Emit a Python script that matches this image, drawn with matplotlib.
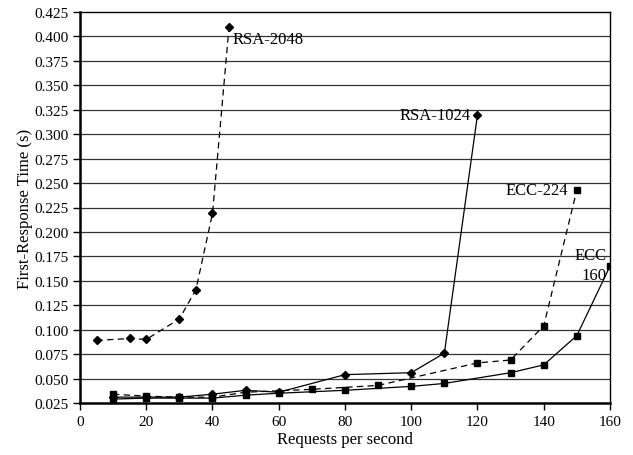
import matplotlib
matplotlib.use("Agg")
import matplotlib.pyplot as plt

rsa2048_x = [5, 15, 20, 30, 35, 40, 45]
rsa2048_y = [0.089, 0.091, 0.090, 0.111, 0.141, 0.219, 0.410]

rsa1024_x = [10, 20, 30, 40, 50, 60, 80, 100, 110, 120]
rsa1024_y = [0.031, 0.031, 0.031, 0.034, 0.038, 0.036, 0.054, 0.056, 0.076, 0.320]

ecc224_x = [10, 20, 30, 40, 50, 70, 90, 120, 130, 140, 150]
ecc224_y = [0.034, 0.032, 0.031, 0.031, 0.036, 0.039, 0.043, 0.066, 0.069, 0.104, 0.243]

ecc160_x = [10, 20, 30, 40, 50, 60, 80, 100, 110, 130, 140, 150, 160]
ecc160_y = [0.029, 0.030, 0.030, 0.030, 0.033, 0.035, 0.038, 0.042, 0.045, 0.056, 0.064, 0.094, 0.165]

xticks = list(range(0, 161, 20))
yticks = [0.025 * i for i in range(1, 18)]

plt.rcParams['font.family'] = ['Liberation Serif', 'DejaVu Serif']

fig = plt.figure(figsize=(6.33, 4.56), dpi=100)
ax = fig.add_axes([80/633, 52/456, 530/633, 391/456])

for y in yticks[1:-1]:
    ax.axhline(y, color='#333333', lw=0.9, zorder=0)

ax.plot(rsa2048_x, rsa2048_y, color='black', lw=0.9, ls=(0, (5, 3.5)),
        marker='D', ms=4.5, zorder=3)
ax.plot(rsa1024_x, rsa1024_y, color='black', lw=0.9, ls='-',
        marker='D', ms=4.5, zorder=3)
ax.plot(ecc224_x, ecc224_y, color='black', lw=0.9, ls=(0, (5, 3.5)),
        marker='s', ms=4.5, zorder=3)
ax.plot(ecc160_x, ecc160_y, color='black', lw=0.9, ls='-',
        marker='s', ms=4.5, zorder=3)

ax.text(46, 0.397, 'RSA-2048', fontsize=12, ha='left', va='center')
ax.text(118, 0.320, 'RSA-1024', fontsize=12, ha='right', va='center')
ax.text(147.5, 0.243, 'ECC-224', fontsize=12, ha='right', va='center')
ax.text(159, 0.176, 'ECC', fontsize=12, ha='right', va='center')
ax.text(159, 0.1555, '160', fontsize=12, ha='right', va='center')

ax.set_xlim(0, 160)
ax.set_ylim(0.025, 0.425)
ax.set_xticks(xticks)
ax.set_yticks(yticks)
ax.set_yticklabels([f"{v:.3f}" for v in yticks])
ax.tick_params(axis='both', direction='out', length=5, width=1, labelsize=11, colors='black')
for s in ax.spines.values():
    s.set_linewidth(1.0)
ax.spines['left'].set_linewidth(1.8)
ax.spines['bottom'].set_linewidth(1.8)

ax.set_xlabel('Requests per second', fontsize=12, labelpad=2)
ax.set_ylabel('First-Response Time (s)', fontsize=12, labelpad=1)

fig.savefig('out.png', dpi=100)
